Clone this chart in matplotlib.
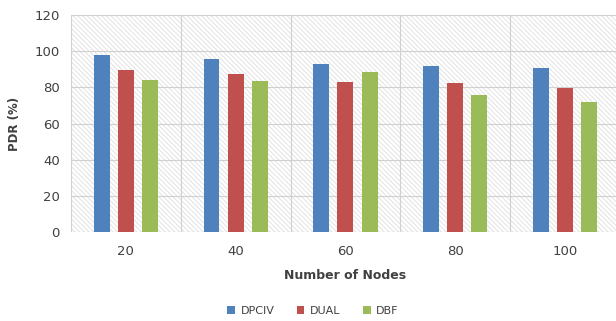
import numpy as np
import matplotlib.pyplot as plt
from matplotlib.patches import Rectangle

nodes = ['20', '40', '60', '80', '100']
series_names = ['DPCIV', 'DUAL', 'DBF']
dpciv = [98, 95.7, 92.8, 92, 90.8]
dual = [89.5, 87.5, 83, 82.3, 79.7]
dbf = [84, 83.8, 88.8, 75.7, 72]
colors = ['#4F81BD', '#C0504D', '#9BBB59']

fig = plt.figure(figsize=(6.16, 3.21), dpi=100)
ax = fig.add_axes([0.1153, 0.277, 0.891, 0.676])

x = np.arange(len(nodes))
width = 0.145
offset = 0.22

# hatched plot background
plt.rcParams['hatch.linewidth'] = 0.6
ax.add_patch(Rectangle((0, 0), 1, 1, transform=ax.transAxes, facecolor='white',
                       edgecolor='#dedede', hatch='\\' * 7, linewidth=0, zorder=0))

for i, (vals, name) in enumerate(zip([dpciv, dual, dbf], series_names)):
    ax.bar(x + (i - 1) * offset, vals, width, color=colors[i], label=name, zorder=3)

ax.set_xlim(-0.5, len(nodes) - 0.5)
ax.set_ylim(0, 120)
ax.set_yticks(range(0, 121, 20))
ax.set_xticks(x)
ax.set_xticklabels(nodes)

# category separators and horizontal grid
ax.set_xticks(np.arange(-0.5, len(nodes), 1), minor=True)
ax.grid(axis='y', which='major', color='#d0d0d0', linewidth=0.8, zorder=1)
ax.grid(axis='x', which='minor', color='#d0d0d0', linewidth=0.8, zorder=1)
ax.grid(axis='x', which='major', visible=False)
ax.tick_params(which='both', length=0, colors='#404040', labelsize=9.5)
ax.tick_params(axis='x', pad=9)
ax.tick_params(axis='y', pad=8)
for s in ax.spines.values():
    s.set_visible(False)
ax.axhline(0, color='#d0d0d0', linewidth=0.8, zorder=2)

ax.set_xlabel('Number of Nodes', fontsize=9, fontweight='bold', color='#404040', labelpad=8)
ax.set_ylabel('PDR (%)', fontsize=8.5, fontweight='bold', color='#404040', labelpad=10)

fig.legend(loc='center', bbox_to_anchor=(0.508, 0.032), ncol=3, frameon=False,
           fontsize=8, handlelength=0.7, handleheight=0.7, columnspacing=2.0,
           handletextpad=0.5, labelcolor='#404040')

fig.savefig('out.png', dpi=100)
